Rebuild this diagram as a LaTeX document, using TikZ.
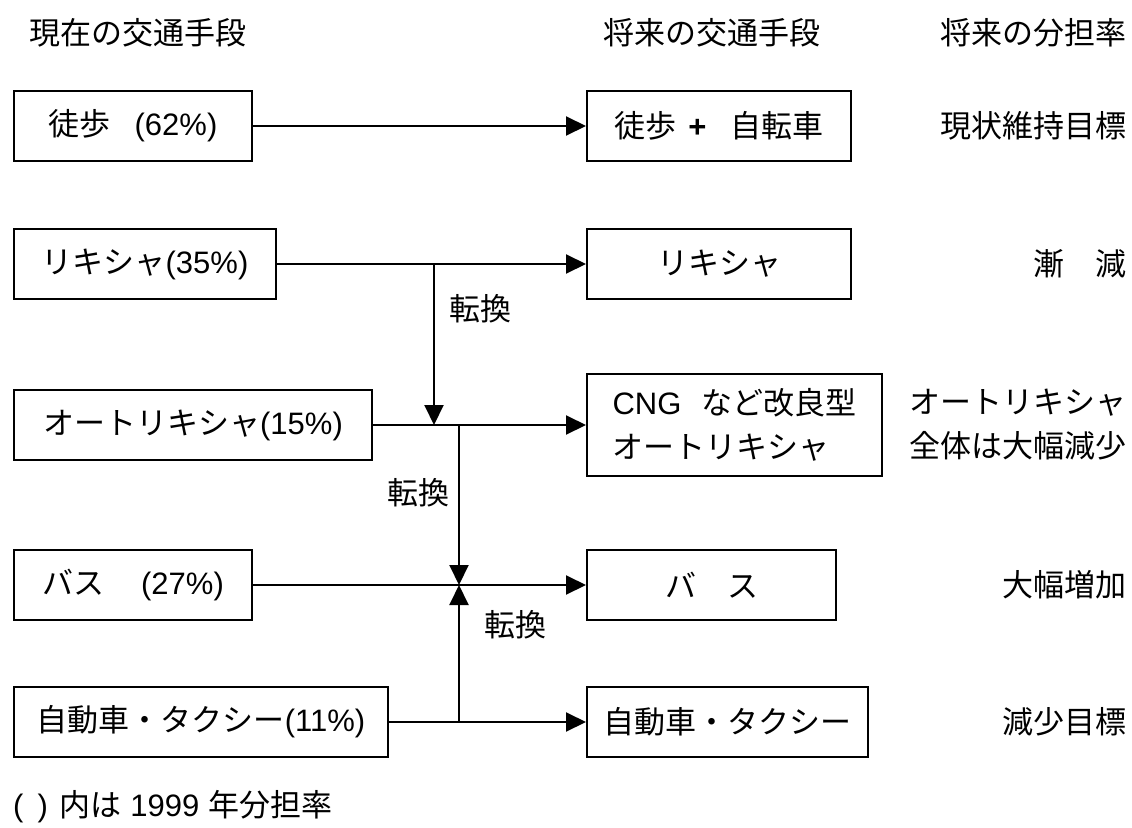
\documentclass[tikz,border=0pt]{standalone}
\usepackage{fontspec}
\setmainfont{Liberation Sans}
\newfontfamily\cjk{Noto Sans CJK JP}
\usetikzlibrary{arrows.meta}
\newcommand\fs{\fontsize{31}{40}\selectfont}
\newcommand\J[1]{{\cjk #1}}
\begin{document}
\begin{tikzpicture}[x=1pt,y=-1pt,
  box/.style={draw, line width=2pt, inner sep=0pt, minimum height=70pt, font=\fs, anchor=west, align=center},
  lbl/.style={font=\fs, inner sep=0pt},
  arr/.style={line width=2pt, -{Triangle[length=20pt,width=19pt]}}]
\useasboundingbox (0,0) rectangle (1132,827);
\fill[white] (0,0) rectangle (1132,827);
% headers
\node[lbl, anchor=west] (h1) at (29,33) {\J{現在の交通手段}};
\node[lbl, anchor=west] (h2) at (603,33) {\J{将来の交通手段}};
\node[lbl, anchor=east] (h3) at (1127,33) {\J{将来の分担率}};
% left boxes
\node[box, minimum width=238pt] (a1) at (13,126) {\J{徒歩}\hspace{24pt}(62\%)};
\node[box, minimum width=262pt] (a2) at (13,264) {\J{リキシャ}(35\%)};
\node[box, minimum width=358pt] (a3) at (13,425) {\J{オートリキシャ}(15\%)};
\node[box, minimum width=238pt] (a4) at (13,585) {\J{バス}\hspace{37pt}(27\%)};
\node[box, minimum width=374pt] (a5) at (13,722) {\J{自動車・タクシー}(11\%)};
% right boxes
\node[box, minimum width=264pt] (b1) at (586,126) {\J{徒歩}\hspace{12pt}\textbf{+}\hspace{24pt}\J{自転車}};
\node[box, minimum width=264pt] (b2) at (586,264) {\J{リキシャ}};
\node[box, minimum width=295pt, minimum height=102pt, align=left, font=\fontsize{31}{44}\selectfont] (b3) at (586,425) {CNG\hspace{20pt}\J{など改良型}\\\J{オートリキシャ}};
\node[box, minimum width=249pt] (b4) at (586,585) {\J{バ　ス}};
\node[box, minimum width=281pt] (b5) at (586,722) {\J{自動車・タクシー}};
% right column
\node[lbl, anchor=east] (r1) at (1127,126) {\J{現状維持目標}};
\node[lbl, anchor=east] (r2) at (1127,264) {\J{漸　減}};
\node[lbl, anchor=east, align=right, font=\fontsize{31}{44}\selectfont] (r3) at (1127,425) {\J{オートリキシャ}\\\J{全体は大幅減少}};
\node[lbl, anchor=east] (r4) at (1127,585) {\J{大幅増加}};
\node[lbl, anchor=east] (r5) at (1127,722) {\J{減少目標}};
% conversion labels
\node[lbl] (t1) at (480,309) {\J{転換}};
\node[lbl] (t2) at (418,493) {\J{転換}};
\node[lbl] (t3) at (515,625) {\J{転換}};
% footer
\node[lbl, anchor=west] (f) at (13,807) {(\hspace{14pt})\hspace{12pt}\J{内は} 1999 \J{年分担率}};
% junctions
\coordinate (j1) at (434,264);
\coordinate (j2) at (434,425);
\coordinate (j3) at (459,425);
\coordinate (j4) at (459,585);
\coordinate (j5) at (459,722);
% connectors
\draw[arr] (a1.east) -- (b1.west);
\draw[arr] (a2.east) -- (b2.west);
\draw[arr] (a3.east) -- (b3.west);
\draw[arr] (a4.east) -- (b4.west);
\draw[arr] (a5.east) -- (b5.west);
\draw[arr] (j1) -- (j2);
\draw[arr] (j3) -- (j4);
\draw[arr] (j5) -- (j4);
\end{tikzpicture}
\end{document}
